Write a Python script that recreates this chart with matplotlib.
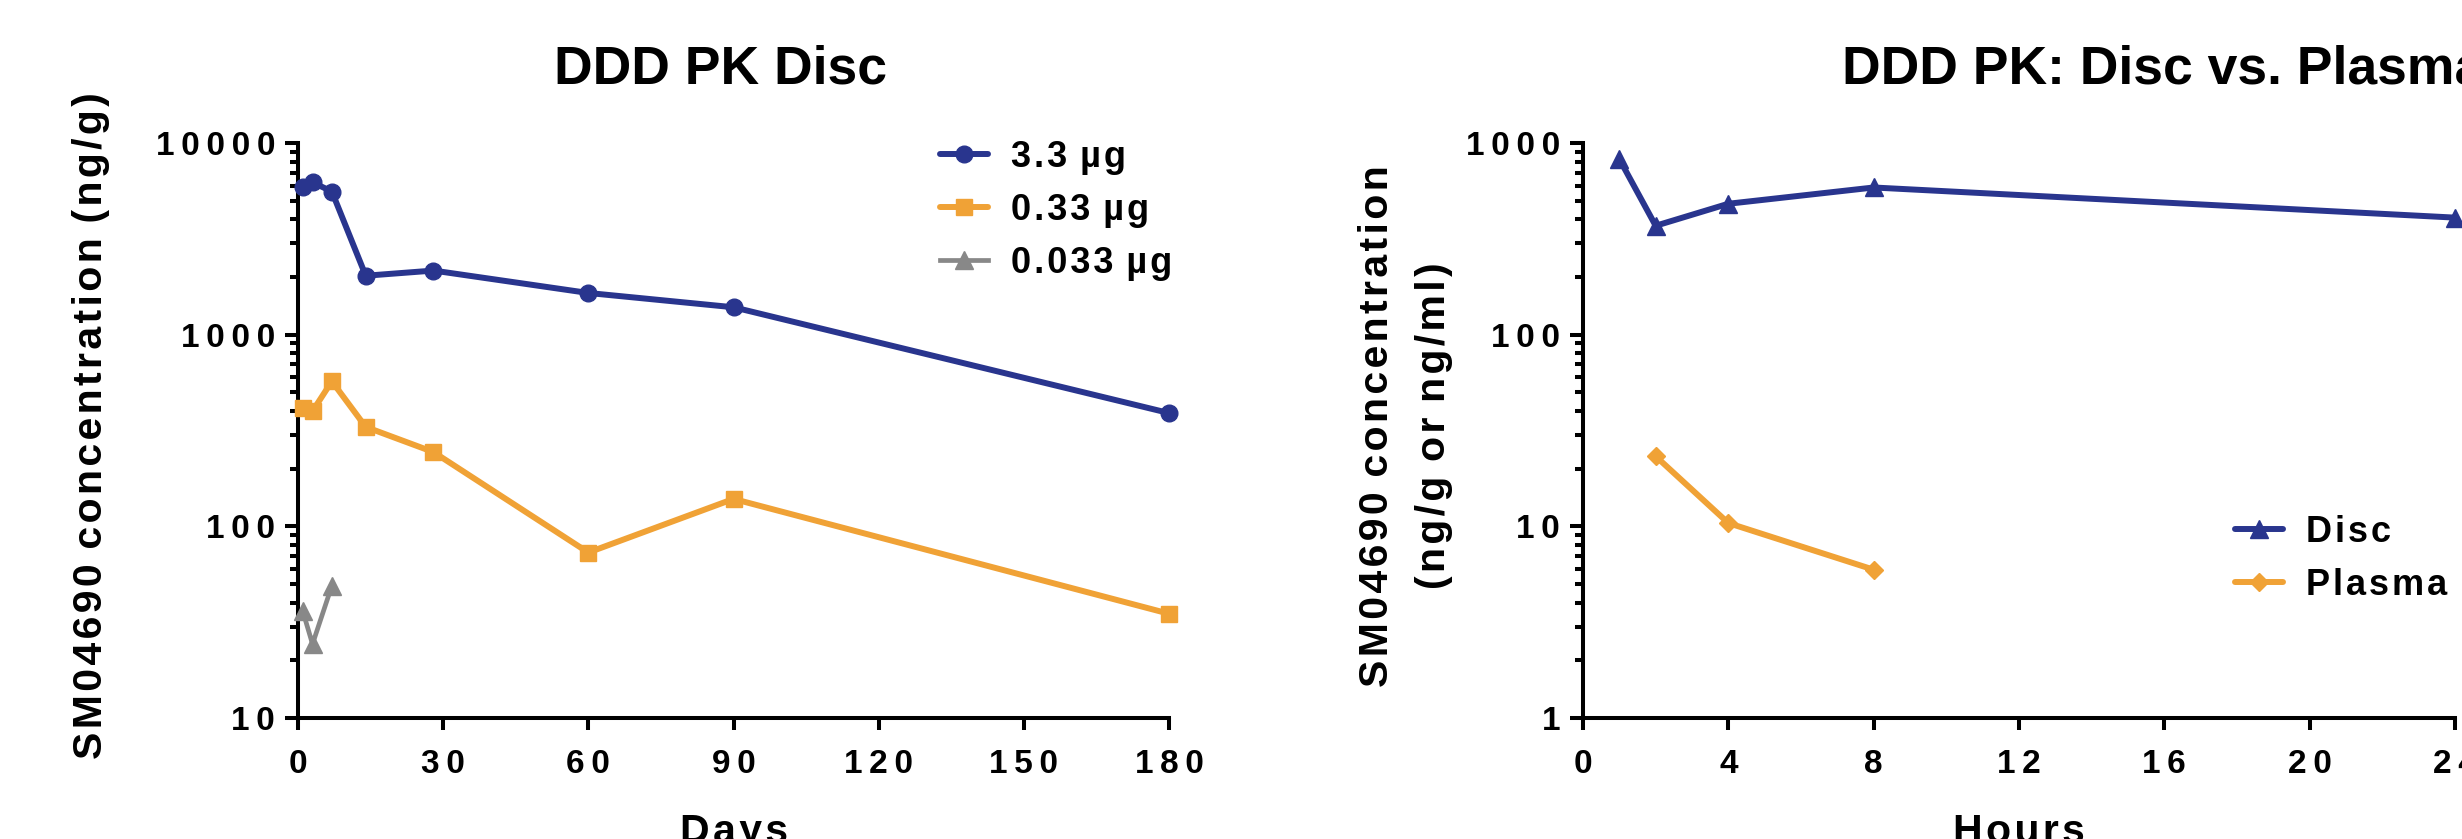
import numpy as np
import matplotlib.pyplot as plt
from matplotlib.ticker import LogLocator, NullFormatter

plt.rcParams['font.family'] = ['Liberation Sans', 'DejaVu Sans']
plt.rcParams['font.weight'] = 'bold'
plt.rcParams['axes.labelweight'] = 'bold'

# Disc PK, days after injection, one series per dose
days_33 = [1, 3, 7, 14, 28, 60, 90, 180]
conc_33 = [5920, 6240, 5580, 2030, 2160, 1650, 1390, 390]
days_033 = [1, 3, 7, 14, 28, 60, 90, 180]
conc_033 = [414, 399, 571, 330, 244, 73, 139, 35]
days_0033 = [1, 3, 7]
conc_0033 = [36, 24.3, 49]
dose_labels = ['3.3 µg', '0.33 µg', '0.033 µg']

# Disc vs plasma, hours
hours_disc = [1, 2, 4, 8, 24]
conc_disc = [825, 370, 482, 586, 408]
hours_plasma = [2, 4, 8]
conc_plasma = [23.2, 10.4, 5.94]

day_ticks = [0, 30, 60, 90, 120, 150, 180]
hour_ticks = [0, 4, 8, 12, 16, 20, 24]

blue = '#29358E'
orange = '#F0A236'
grey = '#888888'

W, H = 2462, 839
fig = plt.figure(figsize=(W / 100, H / 100), dpi=100)


def spread(text, gap='\u200a'):
    # prism style letter spacing
    return (gap + ' ').join(gap.join(w) for w in text.split(' '))


def style_axis(ax, xticks, ylim):
    ax.set_yscale('log')
    ax.set_ylim(*ylim)
    ax.set_xlim(xticks[0], xticks[-1])
    for s in ['top', 'right']:
        ax.spines[s].set_visible(False)
    for s in ['left', 'bottom']:
        ax.spines[s].set_linewidth(2.9)
    ax.set_xticks(xticks, [spread(str(t), '\u2009') for t in xticks])
    majors = [10 ** k for k in range(int(np.log10(ylim[0])), int(np.log10(ylim[1])) + 1)]
    ax.set_yticks(majors, [spread(str(m), '\u2009') for m in majors])
    ax.yaxis.set_minor_locator(LogLocator(base=10, subs=np.arange(2, 10)))
    ax.yaxis.set_minor_formatter(NullFormatter())
    ax.tick_params(which='both', direction='out', width=2.9, labelsize=24)
    ax.tick_params(axis='y', which='major', length=9.4, pad=7)
    ax.tick_params(axis='y', which='minor', length=5.8)
    ax.tick_params(axis='x', which='major', length=8.6, pad=14)


line_kw = dict(lw=4.3, clip_on=False, solid_joinstyle='round', solid_capstyle='round', zorder=5)
label_size = 29.5
legend_size = 26

ax1 = fig.add_axes([298 / W, 1 - 718 / H, 871 / W, 575 / H])
ax1.plot(days_33, conc_33, color=blue, marker='o', ms=12, label=dose_labels[0], **line_kw)
ax1.plot(days_033, conc_033, color=orange, marker='s', ms=12, label=dose_labels[1], **line_kw)
ax1.plot(days_0033, conc_0033, color=grey, marker='^', ms=12.5, label=dose_labels[2],
         lw=3.4, clip_on=False, zorder=5)
style_axis(ax1, day_ticks, (10, 10000))
ax1.set_ylabel(spread('SM04690 concentration (ng/g)'), fontsize=label_size,
               rotation_mode='anchor', ha='center', va='baseline')
ax1.yaxis.set_label_coords(-0.2254, 0.509)
ax1.set_xlabel(spread('Days'), fontsize=label_size)
ax1.xaxis.set_label_coords(0.5, -0.165)
leg1 = ax1.legend(loc='upper left', bbox_to_anchor=(940 / W, 1 - 140 / H),
                  bbox_transform=fig.transFigure, frameon=False, borderpad=0,
                  borderaxespad=0, handlelength=1.33, handletextpad=0.64,
                  labelspacing=0.5, numpoints=1,
                  prop=dict(size=legend_size, weight='bold'))
for t in leg1.get_texts():
    t.set_text(spread(t.get_text()))

ax2 = fig.add_axes([1583 / W, 1 - 718 / H, 872 / W, 575 / H])
ax2.plot(hours_disc, conc_disc, color=blue, marker='^', ms=12.5, label='Disc', **line_kw)
ax2.plot(hours_plasma, conc_plasma, color=orange, marker='D', ms=9.5, label='Plasma', **line_kw)
style_axis(ax2, hour_ticks, (1, 1000))
ax2.set_ylabel(spread('SM04690 concentration'), fontsize=label_size,
               rotation_mode='anchor', ha='center', va='baseline')
ax2.yaxis.set_label_coords(-0.2236, 0.507)
ax2.text(-0.1583, 0.509, spread('(ng/g or ng/ml)'), fontsize=label_size, fontweight='bold',
         rotation=90, rotation_mode='anchor', ha='center', va='baseline',
         transform=ax2.transAxes)
ax2.set_xlabel(spread('Hours'), fontsize=label_size)
ax2.xaxis.set_label_coords(0.5, -0.165)
leg2 = ax2.legend(loc='upper left', bbox_to_anchor=(2235 / W, 1 - 515 / H),
                  bbox_transform=fig.transFigure, frameon=False, borderpad=0,
                  borderaxespad=0, handlelength=1.33, handletextpad=0.64,
                  labelspacing=0.5, numpoints=1,
                  prop=dict(size=legend_size, weight='bold'))
for t in leg2.get_texts():
    t.set_text(spread(t.get_text()))

fig.text(721 / W, 1 - 83 / H, 'DDD PK Disc', ha='center', va='baseline', fontsize=38.5)
fig.text(1842 / W, 1 - 83 / H, 'DDD PK: Disc vs. Plasma', ha='left', va='baseline', fontsize=38.5)

fig.savefig('out.png', dpi=100)
